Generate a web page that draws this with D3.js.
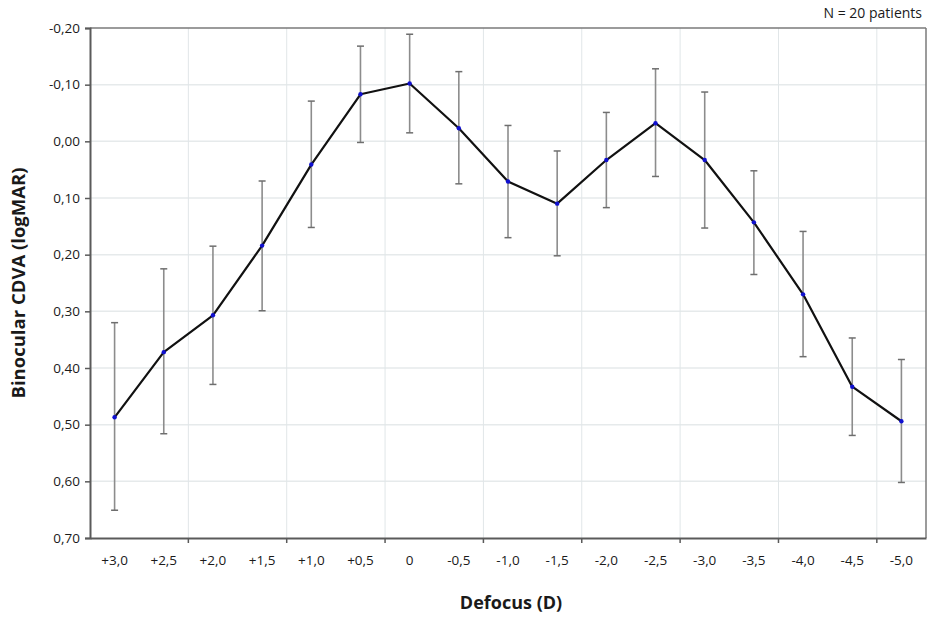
<!DOCTYPE html>
<html>
<head>
<meta charset="utf-8">
<script src="https://cdn.jsdelivr.net/npm/d3@7"></script>
<style>
  html, body { margin: 0; padding: 0; background: #fff; }
  svg { display: block; font-family: "Open Sans", sans-serif; }
</style>
</head>
<body>
<svg id="chart" width="928" height="618"></svg>
<script>
const categories = ["+3,0","+2,5","+2,0","+1,5","+1,0","+0,5","0","-0,5","-1,0","-1,5","-2,0","-2,5","-3,0","-3,5","-4,0","-4,5","-5,0"];
const meanValues = [0.487, 0.372, 0.307, 0.184, 0.041, -0.083, -0.102, -0.023, 0.071, 0.110, 0.033, -0.032, 0.033, 0.143, 0.270, 0.433, 0.494];
const errorTop =    [0.320, 0.225, 0.185, 0.070, -0.071, -0.168, -0.189, -0.123, -0.028, 0.017, -0.051, -0.128, -0.087, 0.052, 0.159, 0.347, 0.385];
const errorBottom = [0.651, 0.516, 0.429, 0.299, 0.152, 0.002, -0.015, 0.075, 0.170, 0.202, 0.117, 0.062, 0.153, 0.235, 0.380, 0.519, 0.602];
const yTicks = [-0.2, -0.1, 0.0, 0.1, 0.2, 0.3, 0.4, 0.5, 0.6, 0.7];
const yTitle = "Binocular CDVA (logMAR)";
const xTitle = "Defocus (D)";
const note = "N = 20 patients";

(function () {
const svg = d3.select("#chart");
const mL = 90, mR = 926, mT = 28, mB = 538;

const x = d3.scaleBand().domain(categories).range([mL, mR]).paddingInner(0).paddingOuter(0);
const y = d3.scaleLinear().domain([-0.2, 0.7]).range([mT, mB]);
const fmt = v => d3.format(".2f")(v).replace(".", ",").replace("\u2212", "-");

// gridlines
const boundaries = d3.range(2, categories.length, 2).map(i => mL + i * x.step());
svg.append("g").selectAll("line").data(yTicks.slice(1, -1)).join("line")
  .attr("x1", mL).attr("x2", mR)
  .attr("y1", d => y(d)).attr("y2", d => y(d))
  .attr("stroke", "#e6eaeb").attr("stroke-width", 1.5);
svg.append("g").selectAll("line").data(boundaries).join("line")
  .attr("x1", d => d).attr("x2", d => d)
  .attr("y1", mT).attr("y2", mB)
  .attr("stroke", "#e1e6e8").attr("stroke-width", 1);

// frame: top and right
svg.append("line").attr("x1", mL).attr("x2", mR).attr("y1", mT).attr("y2", mT)
  .attr("stroke", "#7a7a7a").attr("stroke-width", 1.5);
svg.append("line").attr("x1", mR).attr("x2", mR).attr("y1", mT).attr("y2", mB)
  .attr("stroke", "#7a7a7a").attr("stroke-width", 1.5);

// Y axis
const yAxis = svg.append("g").attr("transform", `translate(${mL},0)`)
  .call(d3.axisLeft(y).tickValues(yTicks).tickFormat(fmt).tickSize(5).tickPadding(5));
yAxis.select(".domain").attr("stroke", "#5a5a5a").attr("stroke-width", 2);
yAxis.selectAll(".tick line").attr("stroke", "#5a5a5a").attr("stroke-width", 1.5);
yAxis.selectAll(".tick text").attr("font-size", 13.5).attr("fill", "#1a1a1a")
  .attr("font-family", "'Open Sans', sans-serif");

// X axis (labels in band centers, ticks at every 2nd boundary)
const xAxis = svg.append("g").attr("transform", `translate(0,${mB})`)
  .call(d3.axisBottom(x).tickSize(0).tickPadding(17));
xAxis.select(".domain").attr("stroke", "#5a5a5a").attr("stroke-width", 2);
xAxis.selectAll(".tick text").attr("font-size", 13.5).attr("fill", "#1a1a1a")
  .attr("font-family", "'Open Sans', sans-serif");
svg.append("g").selectAll("line").data(boundaries).join("line")
  .attr("x1", d => d).attr("x2", d => d)
  .attr("y1", mB).attr("y2", mB + 5)
  .attr("stroke", "#5a5a5a").attr("stroke-width", 1.5);

const cx = c => x(c) + x.bandwidth() / 2;

// error bars
const eb = svg.append("g").selectAll("g").data(categories).join("g");
eb.append("line")
  .attr("x1", cx).attr("x2", cx)
  .attr("y1", (c, i) => y(errorTop[i])).attr("y2", (c, i) => y(errorBottom[i]))
  .attr("stroke", "#8c8c8c").attr("stroke-width", 1.6);
eb.append("line")
  .attr("x1", c => cx(c) - 3.5).attr("x2", c => cx(c) + 3.5)
  .attr("y1", (c, i) => y(errorTop[i])).attr("y2", (c, i) => y(errorTop[i]))
  .attr("stroke", "#6e6e6e").attr("stroke-width", 1.5);
eb.append("line")
  .attr("x1", c => cx(c) - 3.5).attr("x2", c => cx(c) + 3.5)
  .attr("y1", (c, i) => y(errorBottom[i])).attr("y2", (c, i) => y(errorBottom[i]))
  .attr("stroke", "#6e6e6e").attr("stroke-width", 1.5);

// line
const line = d3.line().x((d, i) => cx(categories[i])).y(d => y(d));
svg.append("path").datum(meanValues).attr("d", line)
  .attr("fill", "none").attr("stroke", "#111").attr("stroke-width", 2.2)
  .attr("stroke-linejoin", "round");

// points
svg.append("g").selectAll("circle").data(meanValues).join("circle")
  .attr("cx", (d, i) => cx(categories[i])).attr("cy", d => y(d))
  .attr("r", 2.2).attr("fill", "#1010d0");

// titles
svg.append("text").attr("transform", `translate(25,${(mT + mB) / 2}) rotate(-90)`)
  .attr("text-anchor", "middle").attr("font-size", 18.5).attr("font-weight", "bold")
  .attr("fill", "#1a1a1a").text(yTitle);
svg.append("text").attr("x", (mL + mR) / 2 + 3).attr("y", 609)
  .attr("text-anchor", "middle").attr("font-size", 18).attr("font-weight", "bold")
  .attr("fill", "#1a1a1a").text(xTitle);
svg.append("text").attr("x", 922).attr("y", 18)
  .attr("text-anchor", "end").attr("font-size", 14).attr("fill", "#1a1a1a").text(note);
})();
</script>
</body>
</html>
